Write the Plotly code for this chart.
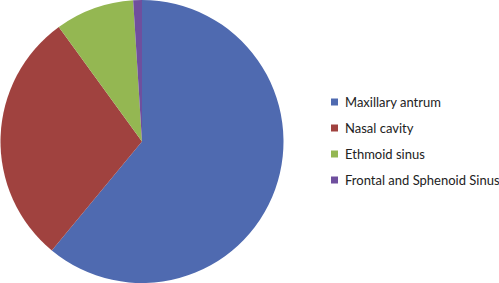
import plotly.graph_objects as go

labels = ["Maxillary antrum", "Nasal cavity", "Ethmoid sinus", "Frontal and Sphenoid Sinus"]
values = [61, 29, 9, 1]
colors = ["#4F6AB0", "#A0423F", "#94B752", "#6F4F9E"]

W, H = 499, 283

fig = go.Figure(go.Pie(
    labels=labels, values=values, sort=False, direction="clockwise", rotation=0,
    marker=dict(colors=colors, line=dict(width=0)),
    textinfo="none", hoverinfo="label+percent",
    domain=dict(x=[0, 284 / W], y=[0, 1]),
    showlegend=False,
))

# manual legend (squares + text)
leg_x = 331
leg_y0 = 102
leg_dy = 26
for i, (lab, col) in enumerate(zip(labels, colors)):
    yc = leg_y0 + i * leg_dy
    fig.add_shape(type="rect", xref="paper", yref="paper",
                  x0=leg_x / W, x1=(leg_x + 7) / W,
                  y0=1 - (yc + 3.5) / H, y1=1 - (yc - 3.5) / H,
                  fillcolor=col, line=dict(width=0))
    fig.add_annotation(xref="paper", yref="paper", x=(leg_x + 12) / W, y=1 - yc / H,
                       text=lab, showarrow=False, xanchor="left", yanchor="middle",
                       font=dict(family="Lato", size=13, color="#222222"))

fig.update_layout(width=W, height=H, margin=dict(l=0, r=0, t=0, b=0),
                  paper_bgcolor="white", plot_bgcolor="white")
fig.write_html("out.html")
